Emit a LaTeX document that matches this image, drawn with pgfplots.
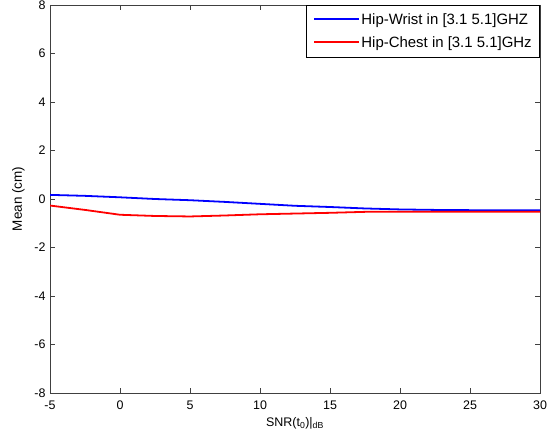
\documentclass[border=0pt]{standalone}
\usepackage{pgfplots}
\pgfplotsset{compat=1.18}
\usepackage{fontspec}
\setmainfont{Liberation Sans}
\begin{document}
\begin{tikzpicture}
\path[use as bounding box] (-50bp,-50bp) rectangle (497bp,393bp);
\begin{axis}[
  at={(0,0)}, anchor=south west,
  width=490bp, height=388bp, scale only axis,
  xmin=-5, xmax=30, ymin=-8, ymax=8,
  xtick={-5,0,...,30}, ytick={-8,-6,...,8},
  tick align=inside, tick pos=both,
  major tick length=5bp,
  axis line style={line width=0.8pt, black!75},
  every tick/.style={black!75, line width=0.6pt},
  tick label style={font=\fontsize{12.5}{14}\selectfont},
  xticklabel style={yshift=-4bp},
  yticklabel style={xshift=-1bp},
  /pgf/number format/assume math mode=true,
  xlabel={SNR(t\textsubscript{0})|\textsubscript{dB}},
  ylabel={Mean (cm)},
  xlabel style={font=\fontsize{12.5}{14}\selectfont, yshift=-1bp},
  ylabel style={font=\fontsize{13.5}{15}\selectfont, yshift=3bp},
]
\addplot[blue, line width=1.8pt] coordinates {
(-5,0.17) (-2.5,0.13) (0,0.07) (2.5,0.0) (5,-0.05) (7.5,-0.12) (10,-0.2)
(12.5,-0.28) (15,-0.33) (17.5,-0.39) (20,-0.43) (22.5,-0.45) (25,-0.46) (27.5,-0.46) (30,-0.46)};
\addplot[red, line width=1.8pt] coordinates {
(-5,-0.27) (-2.5,-0.45) (0,-0.65) (2.5,-0.7) (5,-0.72) (7.5,-0.68) (10,-0.63)
(12.5,-0.6) (15,-0.57) (17.5,-0.53) (20,-0.53) (22.5,-0.53) (25,-0.53) (27.5,-0.53) (30,-0.53)};
\node[anchor=north east, draw=black, line width=0.6pt, fill=white, inner xsep=8bp, inner ysep=3bp,
  font=\fontsize{15}{23}\selectfont] at (rel axis cs:1,1)
  {\begin{tabular}{@{}l@{\hspace{2bp}}l@{}}
   \textcolor{blue}{\rule[4.5pt]{45bp}{1.5pt}} & Hip-Wrist in [3.1 5.1]GHZ\\
   \textcolor{red}{\rule[4.5pt]{45bp}{1.5pt}} & Hip-Chest in [3.1 5.1]GHz
   \end{tabular}};
\end{axis}
\end{tikzpicture}
\end{document}
